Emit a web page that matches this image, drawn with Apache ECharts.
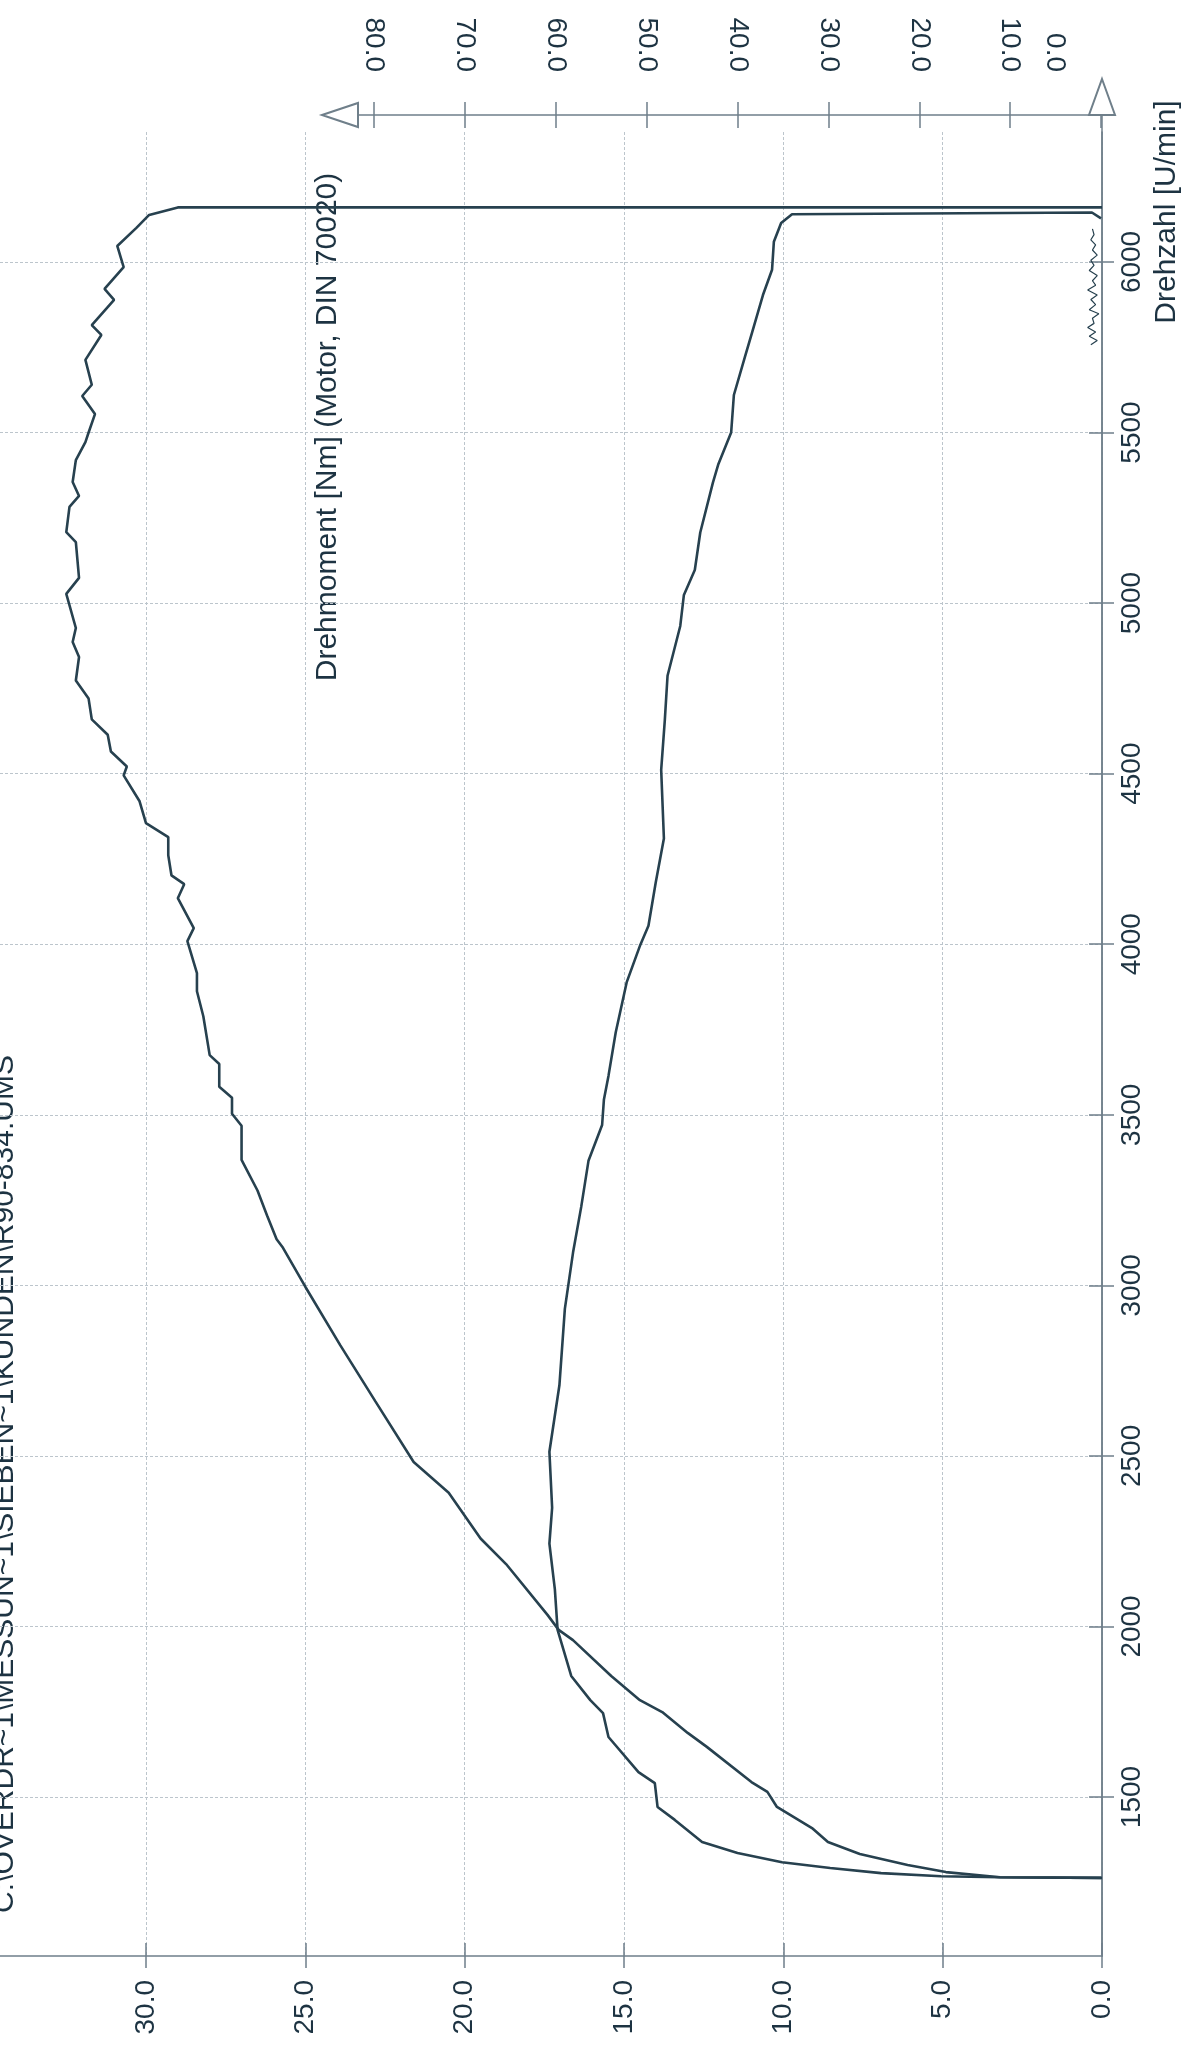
<!DOCTYPE html>
<html>
<head>
<meta charset="utf-8">
<script src="https://cdn.jsdelivr.net/npm/echarts@6/dist/echarts.min.js"></script>
<style>
html,body{margin:0;padding:0;background:#ffffff;}
#chart{width:1192px;height:2046px;}
</style>
</head>
<body>
<div id="chart"></div>
<script>
// ---- tick labels ----
const rpmTicks = [1500, 2000, 2500, 3000, 3500, 4000, 4500, 5000, 5500, 6000];
const powerTicks = [0, 5, 10, 15, 20, 25, 30];
const torqueTicks = [0, 10, 20, 30, 40, 50, 60, 70, 80];
// the "0.0" torque label sits a little inside the axis end, next to the arrow
const torqueLabelSpots = [5.06, 10, 20, 30, 40, 50, 60, 70, 80];

// ---- power curve (bottom axis) ----
const powerRpm = [
  1263, 1265, 1280, 1301, 1333, 1368, 1409, 1471, 1515, 1544,
  1647, 1688, 1749, 1784, 1855, 1960, 1990, 2034, 2183, 2258,
  2392, 2482, 2660, 2824, 2996, 3110, 3135, 3205, 3278, 3368,
  3468, 3503, 3550, 3582, 3649, 3675, 3789, 3862, 3915, 4009,
  4047, 4135, 4176, 4202, 4261, 4314, 4355, 4419, 4495, 4521,
  4565, 4614, 4659, 4720, 4773, 4842, 4886, 4927, 5027, 5074,
  5179, 5208, 5282, 5314, 5355, 5419, 5472, 5500, 5554, 5607,
  5640, 5713, 5786, 5815, 5889, 5921, 5985, 6047, 6100, 6138,
  6160, 6160
];
const powerValues = [
  0, 3.2, 4.9, 6.1, 7.6, 8.6, 9.1, 10.2, 10.5, 11.0,
  12.4, 13.0, 13.8, 14.5, 15.4, 16.6, 17.05, 17.4, 18.7, 19.5,
  20.5, 21.6, 22.8, 23.9, 25.0, 25.7, 25.9, 26.2, 26.5, 27.0,
  27.0, 27.3, 27.3, 27.7, 27.7, 28.0, 28.2, 28.4, 28.4, 28.7,
  28.5, 29.0, 28.8, 29.2, 29.3, 29.3, 30.0, 30.2, 30.7, 30.6,
  31.1, 31.2, 31.7, 31.8, 32.2, 32.1, 32.3, 32.2, 32.5, 32.1,
  32.2, 32.5, 32.4, 32.1, 32.3, 32.2, 31.9, 31.8, 31.6, 32.0,
  31.7, 31.9, 31.4, 31.7, 31.0, 31.3, 30.7, 30.9, 30.3, 29.9,
  29.0, 0
];

// ---- torque curve (top axis, Nm) ----
const torqueRpm = [
  1263, 1265, 1268, 1277, 1292, 1309, 1336, 1368, 1433, 1471,
  1541, 1573, 1676, 1746, 1784, 1855, 1990, 2109, 2243, 2348,
  2512, 2707, 2931, 3096, 3230, 3365, 3470, 3545, 3614, 3742,
  3888, 3998, 4054, 4181, 4310, 4511, 4657, 4787, 4933, 5024,
  5097, 5207, 5354, 5408, 5500, 5610, 5720, 5793, 5903, 5977,
  6059, 6114, 6140, 6145, 6128
];
const torqueValues = [
  0, 11.2, 17.6, 24.2, 29.8, 35.1, 40.0, 43.9, 46.9, 48.8,
  49.1, 50.9, 54.2, 54.8, 56.2, 58.3, 59.8, 60.1, 60.7, 60.4,
  60.7, 59.6, 59.0, 58.1, 57.2, 56.4, 54.9, 54.7, 54.2, 53.4,
  52.2, 50.7, 49.8, 49.0, 48.1, 48.4, 48.0, 47.7, 46.3, 45.9,
  44.7, 44.1, 42.7, 42.1, 40.7, 40.4, 39.2, 38.4, 37.2, 36.2,
  36.0, 35.2, 34.0, 1.0, 0
];

// ---- small trace near zero ----
const auxRpm = [
  5757, 5770, 5782, 5795, 5808, 5820, 5835, 5848, 5860, 5875,
  5890, 5903, 5918, 5932, 5945, 5960, 5975, 5990, 6005, 6020,
  6035, 6050, 6065, 6080, 6097
];
const auxValues = [
  0.35, 0.15, 0.40, 0.20, 0.45, 0.25, 0.30, 0.10, 0.40, 0.20,
  0.35, 0.15, 0.45, 0.20, 0.30, 0.15, 0.40, 0.25, 0.35, 0.15,
  0.30, 0.20, 0.35, 0.25, 0.30
];

// ---- texts ----
const filePath = 'C:\\OVERDR~1\\MESSUN~1\\SIEBEN~1\\KUNDEN\\R90-834.UMS';
const torqueLabel = 'Drehmoment [Nm] (Motor, DIN 70020)';
const rpmLabel = 'Drehzahl [U/min]';

const ink = '#1d3342';
const curve = '#27414f';
const axisCol = '#6f7f8a';
const gridCol = '#bcc5cc';
const FONT = 'Liberation Sans, Arial, sans-serif';

const pairs = (r, v) => r.map((x, i) => [v[i], x]);

const chart = echarts.init(document.getElementById('chart'), null, {renderer: 'canvas'});

const rpmMin = 1034, rpmMax = 6381;
const powerMax = 34.58;
const torqueMainMin = -0.11, torqueMainMax = 121.16;
const torqueTopMin = -1.32, torqueTopMax = 81.76;

const mainRect = {left: 0, right: 90, top: 132, bottom: 90, containLabel: false, outerBoundsMode: 'none'};
const topRect = {left: 358, right: 79, top: 115, bottom: 90, containLabel: false, outerBoundsMode: 'none'};
const tickStyle = {color: axisCol, width: 1.5};
const off = {show: false};

chart.setOption({
  animation: false,
  backgroundColor: '#ffffff',
  textStyle: {fontFamily: FONT, color: ink},
  grid: [mainRect, topRect, Object.assign({}, mainRect), Object.assign({}, topRect)],
  xAxis: [
    { // 0: power axis (bottom)
      gridIndex: 0, type: 'value', position: 'bottom', inverse: true,
      min: 0, max: powerMax,
      axisLine: {show: true, onZero: false, lineStyle: {color: axisCol, width: 1.5}},
      axisTick: {show: true, customValues: powerTicks, length: 12, inside: false, lineStyle: tickStyle},
      axisLabel: {show: true, customValues: powerTicks, rotate: 90, margin: 24, fontSize: 28, color: ink, fontFamily: FONT,
        formatter: v => Number(v).toFixed(1)},
      splitLine: {show: true, lineStyle: {color: gridCol, width: 1, type: [3, 2]}}
    },
    { // 1: hidden torque scale in main grid
      gridIndex: 0, type: 'value', position: 'top', inverse: true,
      min: torqueMainMin, max: torqueMainMax, show: false,
      axisLine: {show: false, onZero: false}, splitLine: off
    },
    { // 2: visible torque axis (top)
      gridIndex: 1, type: 'value', position: 'top', inverse: true,
      min: torqueTopMin, max: torqueTopMax,
      axisLine: {show: true, onZero: false, symbol: ['emptyTriangle', 'none'], symbolSize: [24, 36], symbolOffset: [-18, 0],
        lineStyle: {color: axisCol, width: 1.5}},
      axisTick: {show: true, customValues: torqueTicks, length: 13, inside: false, lineStyle: tickStyle},
      axisLabel: {show: true, customValues: torqueLabelSpots, rotate: 90, margin: 43,
        fontSize: 28, color: ink, fontFamily: FONT,
        formatter: v => (v < 9 ? '{z|0.0}' : Number(v).toFixed(1)),
        rich: {z: {fontSize: 28, color: ink, fontFamily: FONT, padding: [0, 0, 0, 22]}}},
      splitLine: off
    },
    { // 3: inner half of power ticks
      gridIndex: 2, type: 'value', position: 'bottom', inverse: true,
      min: 0, max: powerMax,
      axisLine: {show: false, onZero: false},
      axisTick: {show: true, customValues: powerTicks, length: 13, inside: true, lineStyle: tickStyle},
      axisLabel: off, splitLine: off
    },
    { // 4: inner half of torque ticks
      gridIndex: 3, type: 'value', position: 'top', inverse: true,
      min: torqueTopMin, max: torqueTopMax,
      axisLine: {show: false, onZero: false},
      axisTick: {show: true, customValues: torqueTicks, length: 13, inside: true, lineStyle: tickStyle},
      axisLabel: off, splitLine: off
    }
  ],
  yAxis: [
    { // 0: rpm axis
      gridIndex: 0, type: 'value', position: 'right',
      min: rpmMin, max: rpmMax,
      axisLine: {show: true, onZero: false, lineStyle: {color: axisCol, width: 1.5}},
      axisTick: {show: true, customValues: rpmTicks, length: 12, inside: false, lineStyle: tickStyle},
      axisLabel: {show: true, customValues: rpmTicks, rotate: 90, margin: 16, fontSize: 28, color: ink, fontFamily: FONT,
        formatter: v => String(Math.round(v))},
      splitLine: {show: true, lineStyle: {color: gridCol, width: 1, type: [3, 2]}}
    },
    { // 1: rpm axis line extension with arrow
      gridIndex: 1, type: 'value', position: 'right', offset: -11,
      min: 1, max: 2,
      axisLine: {show: true, onZero: false, symbol: ['none', 'emptyTriangle'], symbolSize: [26, 36], symbolOffset: [0, 18],
        lineStyle: {color: axisCol, width: 1.5}},
      axisTick: off, axisLabel: off, splitLine: off
    },
    { // 2: inner half of rpm ticks
      gridIndex: 2, type: 'value', position: 'right',
      min: rpmMin, max: rpmMax,
      axisLine: {show: false, onZero: false},
      axisTick: {show: true, customValues: rpmTicks, length: 13, inside: true, lineStyle: tickStyle},
      axisLabel: off, splitLine: off
    },
    { // 3: placeholder for grid 3
      gridIndex: 3, type: 'value', position: 'right', min: 1, max: 2, show: false,
      axisLine: {show: false, onZero: false}, splitLine: off
    }
  ],
  graphic: [
    {type: 'text', x: 1167, y: 212, rotation: Math.PI / 2,
      style: {text: rpmLabel, font: '30px ' + FONT, fill: ink, align: 'center', verticalAlign: 'middle'}},
    {type: 'text', x: 328, y: 427, rotation: Math.PI / 2,
      style: {text: torqueLabel, font: '30px ' + FONT, fill: ink, align: 'center', verticalAlign: 'middle'}},
    {type: 'text', x: 5, y: 1484, rotation: Math.PI / 2,
      style: {text: filePath, font: '30px ' + FONT, fill: ink, align: 'center', verticalAlign: 'middle'}}
  ],
  series: [
    {name: 'Leistung', type: 'line', xAxisIndex: 0, yAxisIndex: 0, data: pairs(powerRpm, powerValues),
      showSymbol: false, symbol: 'none', lineStyle: {color: curve, width: 2.6}, z: 5},
    {name: 'Drehmoment', type: 'line', xAxisIndex: 1, yAxisIndex: 0, data: pairs(torqueRpm, torqueValues),
      showSymbol: false, symbol: 'none', lineStyle: {color: curve, width: 2.6}, z: 5},
    {name: 'Spur', type: 'line', xAxisIndex: 0, yAxisIndex: 0, data: pairs(auxRpm, auxValues),
      showSymbol: false, symbol: 'none', lineStyle: {color: curve, width: 1.2}, z: 5}
  ]
});
</script>
</body>
</html>
